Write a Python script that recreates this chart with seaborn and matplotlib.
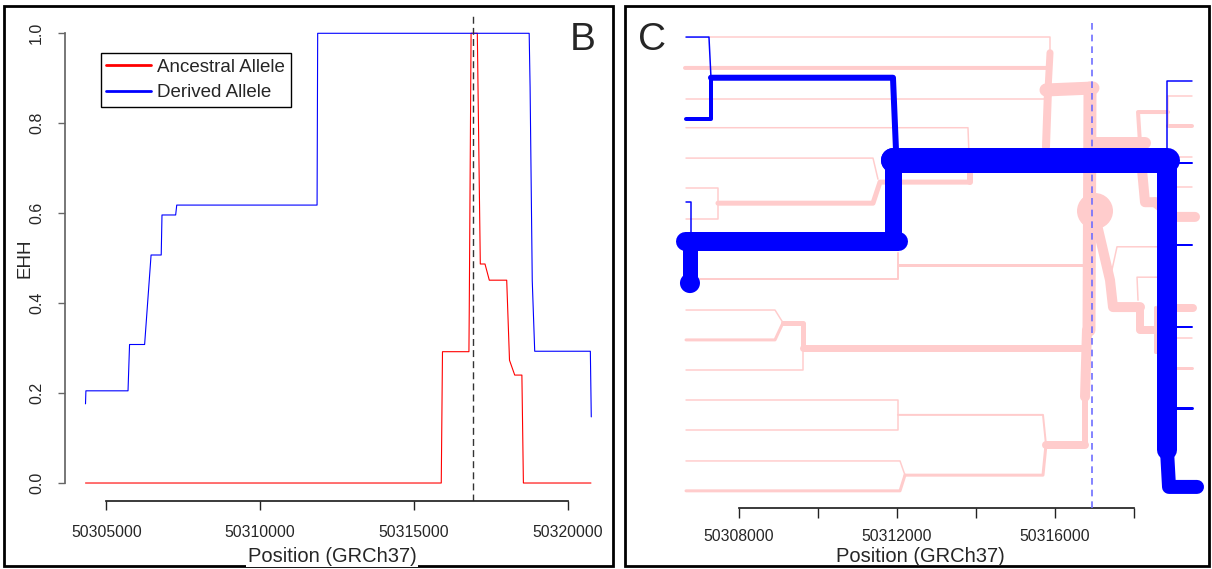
import matplotlib
matplotlib.use("Agg")
import matplotlib.pyplot as plt
from matplotlib.lines import Line2D
from matplotlib.patches import Rectangle
import seaborn as sns

# ---- panel B: EHH decay ----
core_pos = 50316930

ancestral_pos = [50304317, 50315890, 50315930, 50316790, 50316800, 50316860, 50317063,
                 50317160, 50317313, 50317453, 50318019, 50318110, 50318280, 50318513,
                 50318562, 50320760]
ancestral_ehh = [0.0, 0.0, 0.292, 0.292, 0.378, 1.0, 1.0, 0.487, 0.487, 0.451, 0.451,
                 0.273, 0.24, 0.24, 0.0, 0.0]

derived_pos = [50304317, 50304330, 50305700, 50305750, 50306240, 50306450, 50306780,
               50306805, 50307250, 50307285, 50311850, 50311870, 50318750, 50318780,
               50318850, 50318930, 50320740, 50320770]
derived_ehh = [0.176, 0.205, 0.205, 0.308, 0.308, 0.507, 0.507, 0.596, 0.596, 0.618,
               0.618, 1.0, 1.0, 0.88, 0.45, 0.293, 0.293, 0.147]

ehh_ticks = [0.0, 0.2, 0.4, 0.6, 0.8, 1.0]
b_ticks = [50305000, 50310000, 50315000, 50320000]
legend_labels = ["Ancestral Allele", "Derived Allele"]

# ---- panel C: bifurcation diagram (position, haplotype level, weight) ----
anc_paths = [
    ([50307240, 50315875, 50315875], [0.961, 0.961, 0.929]),
    ([50306633, 50315824, 50315875], [0.898, 0.898, 0.929]),
    ([50315875, 50315824], [0.929, 0.853]),
    ([50315773, 50316963], [0.853, 0.857]),
    ([50306658, 50315773], [0.835, 0.835]),
    ([50315824, 50315773], [0.853, 0.737]),
    ([50306658, 50313798, 50313849], [0.776, 0.776, 0.665]),
    ([50306658, 50311393, 50311519], [0.714, 0.714, 0.671]),
    ([50306658, 50307468, 50307468, 50306658], [0.653, 0.653, 0.590, 0.590]),
    ([50307468, 50311393, 50311570, 50313849], [0.622, 0.622, 0.665, 0.665]),
    ([50313849, 50313849, 50315773], [0.665, 0.700, 0.700]),
    ([50307013, 50312026, 50312026], [0.467, 0.467, 0.520]),
    ([50312026, 50316710], [0.496, 0.496]),
    ([50306658, 50308912, 50309114], [0.404, 0.404, 0.378]),
    ([50306658, 50308912, 50309114], [0.343, 0.343, 0.378]),
    ([50309114, 50309620, 50309620], [0.378, 0.378, 0.327]),
    ([50306658, 50309620, 50309620], [0.282, 0.282, 0.327]),
    ([50309620, 50316710], [0.327, 0.327]),
    ([50306658, 50312026, 50312026, 50306658], [0.220, 0.220, 0.159, 0.159]),
    ([50312026, 50315697, 50315773], [0.190, 0.190, 0.129]),
    ([50306658, 50312077, 50312203], [0.096, 0.096, 0.067]),
    ([50306658, 50312077, 50312203], [0.035, 0.035, 0.067]),
    ([50312203, 50315697, 50315773], [0.067, 0.067, 0.129]),
    ([50315773, 50316761], [0.129, 0.129]),
    ([50316761, 50316761], [0.129, 0.227]),
    ([50316761, 50316811], [0.227, 0.363]),
    ([50316862, 50316888], [0.363, 0.857]),
    ([50316963, 50318280], [0.745, 0.745]),
    ([50318153, 50318103, 50318862], [0.745, 0.808, 0.808]),
    ([50318862, 50318862], [0.841, 0.780]),
    ([50318862, 50319470], [0.841, 0.841]),
    ([50318862, 50319470], [0.780, 0.780]),
    ([50318153, 50318280, 50318533], [0.735, 0.624, 0.624]),
    ([50318533, 50318989, 50319546], [0.624, 0.594, 0.594]),
    ([50318660, 50319470], [0.716, 0.716]),
    ([50318660, 50319470], [0.655, 0.655]),
    ([50317065, 50317394, 50317470, 50318153], [0.578, 0.465, 0.410, 0.410]),
    ([50317444, 50317571, 50318584], [0.486, 0.533, 0.533]),
    ([50318584, 50318078, 50318103], [0.471, 0.471, 0.424]),
    ([50318153, 50318153, 50318533], [0.410, 0.363, 0.363]),
    ([50318533, 50318533, 50318660], [0.410, 0.318, 0.318]),
    ([50318660, 50319496], [0.408, 0.408]),
    ([50318660, 50319470], [0.347, 0.347]),
    ([50318660, 50319470], [0.286, 0.286]),
]
anc_weights = [1.5, 4, 7, 13, 1.5, 8, 1.5, 1.5, 1.5, 5, 6, 2, 3, 1.5, 3, 5, 1.5, 7,
               1.5, 2, 1.5, 3, 3, 8, 6, 10, 13, 12, 4, 1.5, 1.5, 4, 10, 10, 1.5, 1.5,
               10, 1.5, 1.5, 8, 3, 8, 1.5, 3]

der_paths = [
    ([50306658, 50307240, 50307291], [0.961, 0.961, 0.878]),
    ([50307291, 50311899, 50311975], [0.878, 0.878, 0.731]),
    ([50307291, 50307291, 50306658], [0.878, 0.794, 0.794]),
    ([50306658, 50306784, 50306784], [0.624, 0.624, 0.545]),
    ([50306633, 50312026], [0.545, 0.545]),
    ([50306759, 50306759], [0.545, 0.459]),
    ([50311899, 50311899], [0.545, 0.710]),
    ([50311899, 50318837], [0.710, 0.710]),
    ([50318837, 50318837], [0.710, 0.118]),
    ([50318837, 50318888, 50319597], [0.118, 0.043, 0.043]),
    ([50319470, 50318837, 50318837], [0.871, 0.871, 0.730]),
    ([50318837, 50319470], [0.704, 0.704]),
    ([50318837, 50319470], [0.537, 0.537]),
    ([50318837, 50319470], [0.369, 0.369]),
    ([50318837, 50319470], [0.204, 0.204]),
]
der_weights = [1.5, 6, 4, 1.5, 19, 15, 17, 25, 20, 14, 1.5, 2, 2, 2, 3]

anc_node_pos = [50317014, 50315824]
anc_node_lvl = [0.606, 0.853]
anc_node_size = [36, 14]
der_node_pos = [50311899, 50306759]
der_node_lvl = [0.710, 0.459]
der_node_size = [24, 20]

c_ticks = [50308000, 50310000, 50312000, 50314000, 50316000, 50318000]
c_tick_labels = ["50308000", "", "50312000", "", "50316000", ""]

RED = "#ff0000"
BLUE = "#0000ff"
PINK = "#ffcccc"
W, H = 1212, 569
PT = 0.72  # points per pixel at 100 dpi

sns.set_theme(style="ticks")
plt.rcParams["font.family"] = ["Liberation Sans", "DejaVu Sans"]

fig = plt.figure(figsize=(W / 100, H / 100), dpi=100)


def px_box(l, t, r, b):
    return [l / W, 1 - b / H, (r - l) / W, (b - t) / H]


# outer frames
for l, t, r, b in [(4, 6, 613, 566), (625, 6, 1209, 566)]:
    fig.patches.append(Rectangle((l / W, 1 - b / H), (r - l) / W, (b - t) / H,
                                 transform=fig.transFigure, fill=False,
                                 edgecolor="black", linewidth=2, zorder=1))

# ---------------- panel B ----------------
axb = fig.add_axes(px_box(65, 15.3, 600, 501))
sns.lineplot(x=ancestral_pos, y=ancestral_ehh, ax=axb, sort=False, estimator=None,
             color=RED, linewidth=0.8)
sns.lineplot(x=derived_pos, y=derived_ehh, ax=axb, sort=False, estimator=None,
             color=BLUE, linewidth=0.8)
axb.axvline(core_pos, color="#333333", linewidth=1, linestyle=(0, (5, 3)))
axb.set_xlim(50303650, 50321054)
axb.set_ylim(-0.04, 1.04)
axb.set_xticks(b_ticks)
axb.set_xticklabels([str(t) for t in b_ticks], fontsize=11.3)
axb.set_yticks(ehh_ticks)
axb.set_yticklabels([f"{t:.1f}" for t in ehh_ticks], fontsize=11.5)
for lab in axb.get_yticklabels():
    lab.set_rotation(90)
    lab.set_va("center")
axb.spines["top"].set_visible(False)
axb.spines["right"].set_visible(False)
axb.spines["left"].set_bounds(0, 1)
axb.spines["left"].set_color("#666666")
axb.spines["bottom"].set_bounds(b_ticks[0], b_ticks[-1])
axb.spines["bottom"].set_color("#222222")
axb.tick_params(axis="y", length=5, width=1, color="#666666", pad=10)
axb.tick_params(axis="x", length=6.5, width=1, color="#222222", pad=11)
axb.set_xlabel("")
axb.set_ylabel("")
axb.patch.set_alpha(0)

handles = [Line2D([0], [0], color=RED, lw=2), Line2D([0], [0], color=BLUE, lw=2)]
leg = axb.legend(handles, legend_labels, loc="upper left", bbox_to_anchor=(0.067, 0.922),
                 borderaxespad=0, fontsize=13.5, handlelength=2.4, handletextpad=0.3,
                 borderpad=0.3, labelspacing=0.45, fancybox=False, framealpha=1,
                 edgecolor="black")
leg.get_frame().set_linewidth(1)

fig.text(25 / W, 1 - 258 / H, "EHH", rotation=90, ha="center", va="center", fontsize=13.5)
fig.text(332 / W, 1 - 556 / H, "Position (GRCh37)", ha="center", va="center", fontsize=14.5,
         zorder=5, bbox=dict(facecolor="white", edgecolor="none", pad=1))
fig.text(583 / W, 1 - 40 / H, "B", ha="center", va="center", fontsize=28)

# ---------------- panel C ----------------
axc = fig.add_axes(px_box(650, 15, 1205, 508))
for (xs, ys), w in zip(anc_paths, anc_weights):
    sns.lineplot(x=xs, y=ys, ax=axc, sort=False, estimator=None, color=PINK,
                 linewidth=w * PT, solid_capstyle="round", solid_joinstyle="round", zorder=2)
sns.scatterplot(x=anc_node_pos, y=anc_node_lvl, ax=axc, color=PINK, linewidth=0,
                s=[(d * PT) ** 2 for d in anc_node_size], zorder=2.5, legend=False)
axc.axvline(core_pos, ymax=0.994, color="#6e6eff", linewidth=1.2, linestyle=(0, (4, 3)), zorder=3)
for (xs, ys), w in zip(der_paths, der_weights):
    sns.lineplot(x=xs, y=ys, ax=axc, sort=False, estimator=None, color=BLUE,
                 linewidth=w * PT, solid_capstyle="round", solid_joinstyle="round", zorder=4)
sns.scatterplot(x=der_node_pos, y=der_node_lvl, ax=axc, color=BLUE, linewidth=0,
                s=[(d * PT) ** 2 for d in der_node_size], zorder=4.5, legend=False)
axc.set_xlim(50305747, 50319799)
axc.set_ylim(0, 1.006)
axc.set_xticks(c_ticks)
axc.set_xticklabels(c_tick_labels, fontsize=11.3)
axc.set_yticks([])
for s in ["top", "right", "left"]:
    axc.spines[s].set_visible(False)
axc.spines["bottom"].set_bounds(c_ticks[0], c_ticks[-1])
axc.spines["bottom"].set_color("#222222")
axc.tick_params(axis="x", length=7, width=1, color="#222222", pad=8)
axc.set_xlabel("")
axc.set_ylabel("")
axc.patch.set_alpha(0)

fig.text(920 / W, 1 - 557 / H, "Position (GRCh37)", ha="center", va="center", fontsize=14.5)
fig.text(652 / W, 1 - 40 / H, "C", ha="center", va="center", fontsize=28)

fig.savefig("out.png", dpi=100)
